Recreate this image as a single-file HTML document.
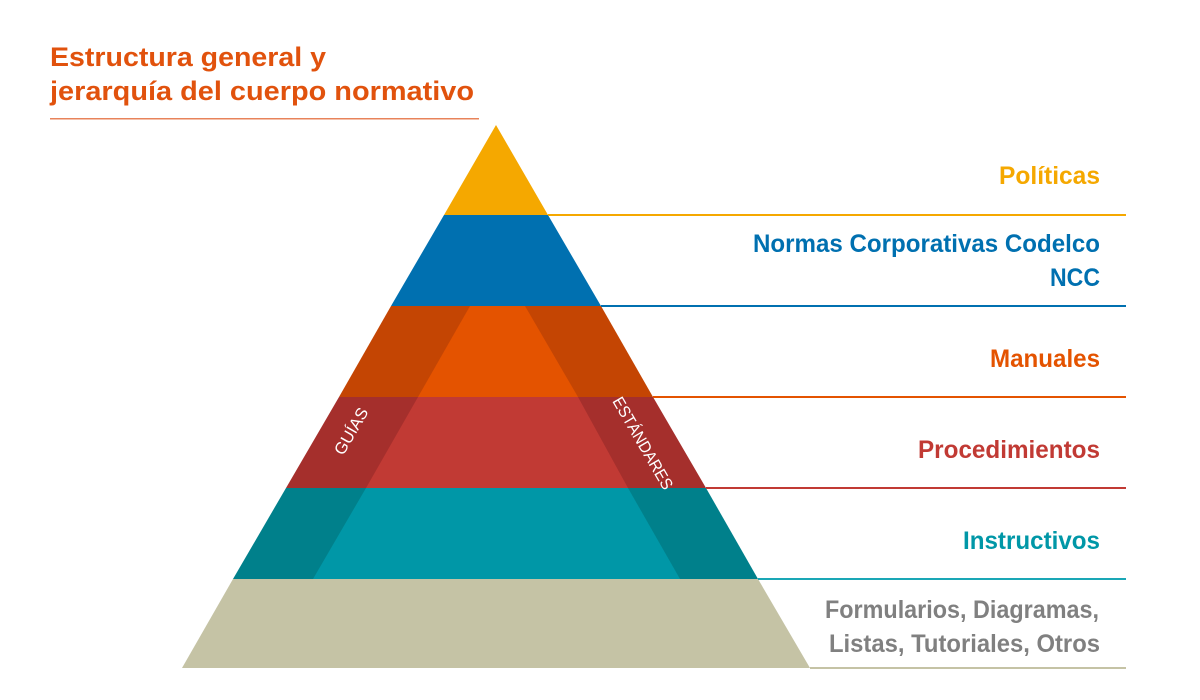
<!DOCTYPE html>
<html><head><meta charset="utf-8"><style>
html,body{margin:0;padding:0;background:#fff;width:1200px;height:700px;overflow:hidden}
svg{display:block}
text{font-family:"Liberation Sans",sans-serif}
</style></head><body>
<svg width="1200" height="700" viewBox="0 0 1200 700" xmlns="http://www.w3.org/2000/svg">
<rect width="1200" height="700" fill="#fff"/>
<text x="50" y="66" font-size="27" font-weight="bold" fill="#e1520d" textLength="276" lengthAdjust="spacingAndGlyphs">Estructura general y</text>
<text x="50" y="100" font-size="27" font-weight="bold" fill="#e1520d" textLength="424" lengthAdjust="spacingAndGlyphs">jerarquía del cuerpo normativo</text>
<rect x="50" y="118" width="429" height="1.5" fill="#e8835a"/>

<polygon points="496,125 548,215 444,215" fill="#f5a800"/>
<polygon points="444,215 548,215 601,306 391,306" fill="#0070b0"/>
<polygon points="391,306 601,306 653,397 339,397" fill="#c44503"/>
<polygon points="339,397 653,397 706,488 286,488" fill="#a52f2c"/>
<polygon points="286,488 706,488 758,579 233,579" fill="#00808b"/>
<polygon points="233,579 758,579 810,668 182,668" fill="#c5c3a5"/>
<polygon points="470,306 525,306 578,397 418,397" fill="#e45300"/>
<polygon points="418,397 578,397 628,488 366,488" fill="#c13a34"/>
<polygon points="366,488 628,488 680,579 313,579" fill="#0097a7"/>

<text transform="translate(356,434) rotate(-60)" font-size="16.5" fill="#fff" text-anchor="middle">GUÍAS</text>
<text transform="translate(638,446) rotate(60)" font-size="16.5" fill="#fff" text-anchor="middle" textLength="104" lengthAdjust="spacingAndGlyphs">ESTÁNDARES</text>

<rect x="548" y="214" width="578" height="2" fill="#f5a800"/>
<rect x="601" y="305" width="525" height="2" fill="#0070b0"/>
<rect x="653" y="396" width="473" height="2" fill="#e45300"/>
<rect x="706" y="487" width="420" height="2" fill="#c13a34"/>
<rect x="758" y="578" width="368" height="2" fill="#1aa7b6"/>
<rect x="810" y="667" width="316" height="2" fill="#c5c3a5"/>

<g font-size="25" font-weight="bold" text-anchor="end">
<text x="1100" y="184" fill="#f5a800" textLength="101" lengthAdjust="spacingAndGlyphs">Políticas</text>
<text x="1100" y="252" fill="#0070b0" textLength="347" lengthAdjust="spacingAndGlyphs">Normas Corporativas Codelco</text>
<text x="1100" y="286" fill="#0070b0" textLength="50" lengthAdjust="spacingAndGlyphs">NCC</text>
<text x="1100" y="367" fill="#e45300" textLength="110" lengthAdjust="spacingAndGlyphs">Manuales</text>
<text x="1100" y="458" fill="#c13a34" textLength="182" lengthAdjust="spacingAndGlyphs">Procedimientos</text>
<text x="1100" y="549" fill="#0097a7" textLength="137" lengthAdjust="spacingAndGlyphs">Instructivos</text>
<text x="1099" y="618" fill="#808080" textLength="274" lengthAdjust="spacingAndGlyphs">Formularios, Diagramas,</text>
<text x="1100" y="652" fill="#808080" textLength="271" lengthAdjust="spacingAndGlyphs">Listas, Tutoriales, Otros</text>
</g>
</svg>
</body></html>
